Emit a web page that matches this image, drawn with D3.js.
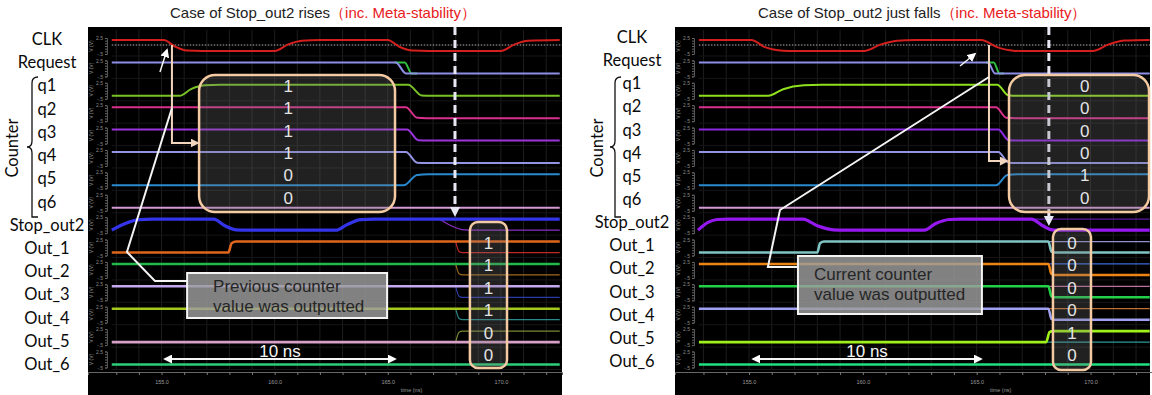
<!DOCTYPE html>
<html>
<head>
<meta charset="utf-8">
<script src="https://cdn.jsdelivr.net/npm/d3@7"></script>
<style>
  body { margin: 0; background: #fff; }
  svg { display: block; font-family: "Liberation Sans", Arial, sans-serif; }
</style>
</head>
<body>
<svg id="chart" width="1152" height="395"></svg>
<script>
// signal rows, top to bottom
const signals = ["CLK", "Request", "q1", "q2", "q3", "q4", "q5", "q6",
  "Stop_out2", "Out_1", "Out_2", "Out_3", "Out_4", "Out_5", "Out_6"];
const counterRows = ["q1", "q2", "q3", "q4", "q5", "q6"];
const outRows = ["Out_1", "Out_2", "Out_3", "Out_4", "Out_5", "Out_6"];
const timeDomain = [151.75, 172.7];
const timeTicks = [155, 160, 165, 170];

// waveforms: [time ns, level 0 = low / 1 = high]
const leftWaves = [
  [[152.8,1],[155.1,1],[155.6,0.4],[156.1,0.04],[156.8,0],[160.0,0],[160.6,0.6],[161.2,0.93],[162.0,1],[165.0,1],[165.5,0.4],[166.1,0.04],[166.8,0],[170.0,0],[170.6,0.6],[171.2,0.93],[172.6,1]],
  [[152.8,1],[165.35,1],[165.8,0],[172.6,0]],
  [[152.8,0],[155.8,0],[156.3,0.6],[156.9,0.95],[157.6,1],[165.9,1],[166.5,0.03],[166.9,0],[172.6,0]],
  [[152.8,1],[165.8,1],[166.3,0.03],[166.7,0],[172.6,0]],
  [[152.8,1],[165.85,1],[166.35,0.03],[166.8,0],[172.6,0]],
  [[152.8,1],[165.8,1],[166.3,0.03],[166.7,0],[172.6,0]],
  [[152.8,0],[165.7,0],[166.3,0.95],[166.8,1],[172.6,1]],
  [[152.8,0],[172.6,0]],
  [[152.8,0],[153.4,0.6],[154.0,0.95],[154.6,1],[157.3,1],[157.8,0.4],[158.3,0.03],[158.8,0],[162.7,0],[163.2,0.5],[163.8,0.95],[164.4,1],[172.6,1]],
  [[152.8,0],[157.95,0],[158.1,0.85],[158.3,1],[172.6,1]],
  [[152.8,1],[172.6,1]],
  [[152.8,1],[172.6,1]],
  [[152.8,1],[172.6,1]],
  [[152.8,0],[172.6,0]],
  [[152.8,0],[172.6,0]]
];
const rightWaves = [
  [[152.8,1],[155.1,1],[155.7,0.35],[156.5,0.03],[157.0,0],[160.05,0],[160.8,0.6],[161.5,0.93],[162.3,1],[165.2,1],[165.9,0.35],[166.6,0.03],[167.1,0],[170.1,0],[170.8,0.6],[171.5,0.95],[172.6,1]],
  [[152.8,1],[165.5,1],[165.8,0],[172.6,0]],
  [[152.8,0],[155.85,0],[156.5,0.6],[157.4,0.95],[158.2,1],[165.9,1],[166.4,0.03],[166.8,0],[172.6,0]],
  [[152.8,1],[165.85,1],[166.3,0.03],[166.7,0],[172.6,0]],
  [[152.8,1],[165.95,1],[166.4,0.03],[166.8,0],[172.6,0]],
  [[152.8,1],[165.95,1],[166.4,0.03],[166.8,0],[172.6,0]],
  [[152.8,0],[165.85,0],[166.35,0.95],[166.8,1],[172.6,1]],
  [[152.8,0],[172.6,0]],
  [[152.76,0],[153.2,0.7],[153.6,0.97],[154.1,1],[157.37,1],[158.0,0.4],[158.7,0.03],[159.2,0],[162.7,0],[163.2,0.6],[163.8,0.97],[164.3,1],[167.4,1],[167.9,0.4],[168.3,0.03],[168.7,0],[172.6,0]],
  [[152.8,0],[158.0,0],[158.12,0.85],[158.3,1],[168.15,1],[168.28,0.1],[168.4,0],[172.6,0]],
  [[152.8,1],[168.15,1],[168.28,0.1],[168.4,0],[172.6,0]],
  [[152.8,1],[168.15,1],[168.28,0.1],[168.4,0],[172.6,0]],
  [[152.8,1],[168.15,1],[168.28,0.1],[168.4,0],[172.6,0]],
  [[152.8,0],[168.05,0],[168.2,0.9],[168.35,1],[172.6,1]],
  [[152.8,0],[172.6,0]]
];

// thin traces of the other (meta-stable) outcome
const leftGhostRows = ["Request", "Stop_out2", "Out_1", "Out_2", "Out_3", "Out_4", "Out_5"];
const leftGhostWaves = [
  [[165.3,1],[165.75,1],[166.05,0],[166.3,0]],
  [[167.3,1],[167.8,0.4],[168.4,0.02],[168.8,0],[172.6,0]],
  [[168.0,1],[168.15,0.1],[168.3,0],[172.6,0]],
  [[168.0,1],[168.15,0.1],[168.3,0],[172.6,0]],
  [[168.0,1],[168.15,0.1],[168.3,0],[172.6,0]],
  [[168.0,1],[168.15,0.1],[168.3,0],[172.6,0]],
  [[168.0,0],[168.15,0.9],[168.3,1],[172.6,1]]
];
const rightGhostRows = ["Request", "Stop_out2", "Out_1", "Out_2", "Out_3", "Out_4", "Out_5"];
const rightGhostWaves = [
  [[165.4,1],[165.75,1],[166.0,0],[166.2,0]],
  [[167.4,1],[172.6,1]],
  [[168.15,1],[172.6,1]],
  [[168.15,1],[172.6,1]],
  [[168.15,1],[172.6,1]],
  [[168.15,1],[172.6,1]],
  [[168.05,0],[172.6,0]]
];

const leftBoxValues = ["1", "1", "1", "1", "0", "0"];
const leftOutValues = ["1", "1", "1", "1", "0", "0"];
const rightBoxValues = ["0", "0", "0", "0", "1", "0"];
const rightOutValues = ["0", "0", "0", "0", "1", "0"];

const leftColors = ["#d3201e", "#8e8ee6", "#78c226", "#d8308c", "#9c34dc", "#9494e4", "#2a8ad0", "#d49ad6",
  "#3434e8", "#e0661e", "#22b84a", "#c4a8f0", "#a4c81c", "#d8a0c8", "#2ecf78"];
const rightColors = ["#d3201e", "#8e8ee6", "#8ee01e", "#d8308c", "#8c28e0", "#9494e4", "#2a8ad0", "#d49ad6",
  "#9618f0", "#80c4c4", "#ee8414", "#22d04a", "#a0a0f0", "#a0f01a", "#22e080"];
const leftGhostColors = ["#30c040", "#8a30c8", "#c02828", "#a06a20", "#2a3aa8", "#2a8a8a", "#7a8a30"];
const rightGhostColors = ["#30c040", "#5a1aa0", "#9090d0", "#3a6ad8", "#c070a0", "#c07030", "#2a9a9a"];

const svg = d3.select("#chart");

const defs = svg.append("defs");
function marker(id, color, size) {
  defs.append("marker").attr("id", id)
    .attr("viewBox", "0 0 10 10").attr("refX", 8).attr("refY", 5)
    .attr("markerWidth", size).attr("markerHeight", size)
    .attr("markerUnits", "userSpaceOnUse")
    .attr("orient", "auto-start-reverse")
    .append("path").attr("d", "M0,0L10,5L0,10Z").attr("fill", color);
}
marker("arrW", "#ffffff", 9);
marker("arrP", "#f2d5bd", 9);

function drawPanel(p) {
  const x = d3.scaleLinear().domain(timeDomain).range(p.xRange);
  const row = d3.scalePoint().domain(signals).range([40, 353.5]);
  const lvl = d3.scaleLinear().domain([0, 1]).range([11, 0]);
  const labelY = d3.scalePoint().domain(signals).range(p.labelRange);
  const x0 = p.xRange[0], x1 = p.panelRight;

  // title
  const title = svg.append("text").attr("x", p.titleX).attr("y", 18)
    .attr("font-size", 15).attr("fill", "#222");
  title.append("tspan").text(p.title);
  title.append("tspan").attr("fill", "#e8201c").text("（inc. Meta-stability）");

  // row labels
  svg.append("g").selectAll("text").data(signals).join("text")
    .attr("x", p.labelX).attr("y", d => labelY(d))
    .attr("text-anchor", "middle")
    .attr("font-family", "Lato, 'Open Sans', sans-serif")
    .attr("font-size", 16.5).attr("fill", "#0a0a0a")
    .text(d => d);

  // Counter brace
  const bx = p.braceX;
  svg.append("path")
    .attr("d", `M${bx + 6},77 Q${bx},77 ${bx},83 L${bx},141 Q${bx},147 ${bx - 5},147 Q${bx},147 ${bx},153 L${bx},217 L${bx + 6},217`)
    .attr("fill", "none").attr("stroke", "#111").attr("stroke-width", 1.3);
  svg.append("text")
    .attr("transform", `translate(${bx - p.counterDx},148) rotate(-90)`)
    .attr("text-anchor", "middle").attr("dominant-baseline", "central")
    .attr("font-family", "Lato, 'Open Sans', sans-serif")
    .attr("font-size", 16.5).attr("fill", "#0a0a0a").text("Counter");

  // black plot area
  svg.append("rect").attr("x", x0).attr("y", 27).attr("width", x1 - x0).attr("height", 368).attr("fill", "#000");

  const g = svg.append("g");

  // faint grid
  g.append("g").selectAll("line").data(d3.range(153, 173))
    .join("line")
    .attr("x1", d => x(d)).attr("x2", d => x(d)).attr("y1", 30).attr("y2", 369)
    .attr("stroke", "#1d1d1d").attr("stroke-width", 1);
  g.append("g").selectAll("line").data(signals)
    .join("line")
    .attr("x1", x(152.8)).attr("x2", x1).attr("y1", d => row(d) + 16).attr("y2", d => row(d) + 16)
    .attr("stroke", "#161616").attr("stroke-width", 1);

  // small per-row voltage axes
  signals.forEach(s => {
    const vy = d3.scaleLinear().domain([-0.5, 2.5]).range([row(s) + 14, row(s) - 2]);
    const ax = g.append("g").attr("transform", `translate(${x0 + 19},0)`)
      .call(d3.axisLeft(vy).tickValues([-0.5, 0, 0.5, 1, 1.5, 2, 2.5]).tickSize(2)
        .tickFormat(d => d === 2.5 ? "2.5" : d === -0.5 ? "-.5" : ""));
    ax.select(".domain").attr("stroke", "#555");
    ax.selectAll("line").attr("stroke", "#666");
    ax.selectAll("text").attr("font-size", 5).attr("fill", "#8a8a8a").attr("dx", 1);
    g.append("text").attr("transform", `translate(${x0 + 5},${row(s) + 6}) rotate(-90)`)
      .attr("text-anchor", "middle").attr("font-size", 5).attr("fill", "#8a8a8a").text("V (V)");
  });

  // time axis
  const tax = g.append("g").attr("transform", "translate(0,372)")
    .call(d3.axisBottom(x).tickValues(d3.range(153, 173)).tickSize(3)
      .tickFormat(d => timeTicks.includes(d) ? d.toFixed(1) : ""));
  tax.select(".domain").attr("stroke", "#666");
  tax.selectAll("line").attr("stroke", "#777");
  tax.selectAll("text").attr("font-size", 5.5).attr("fill", "#9a9a9a").attr("dy", 6);
  g.append("text").attr("x", x(166.05)).attr("y", 392).attr("text-anchor", "middle")
    .attr("font-size", 5.5).attr("fill", "#9a9a9a").text("time (ns)");

  // CLK threshold dotted line
  g.append("line").attr("x1", x(152.8)).attr("x2", x1)
    .attr("y1", row("CLK") + 5).attr("y2", row("CLK") + 5)
    .attr("stroke", "#b0b0b0").attr("stroke-width", 1).attr("stroke-dasharray", "1.5,1.5");

  const line = s => d3.line().x(d => x(d[0])).y(d => row(s) + lvl(d[1])).curve(d3.curveMonotoneX);
  const widthOf = s => s === "Stop_out2" ? 3.2 : s.startsWith("Out") ? 2.6 : 2;

  // ghost traces
  p.ghostRows.forEach((s, i) => {
    g.append("path").datum(p.ghostWaves[i]).attr("d", line(s))
      .attr("fill", "none").attr("stroke", p.ghostColors[i]).attr("stroke-width", s === "Request" ? 2 : 1.2);
  });
  // main traces
  signals.forEach((s, i) => {
    g.append("path").datum(p.waves[i]).attr("d", line(s))
      .attr("fill", "none").attr("stroke", p.colors[i]).attr("stroke-width", widthOf(s));
  });

  // dashed sampling line
  const dx = x(p.sampleT);
  g.append("line").attr("x1", dx).attr("x2", dx).attr("y1", 27).attr("y2", p.sampleEnd - 9)
    .attr("stroke", "#e8e8f4").attr("stroke-width", 3).attr("stroke-dasharray", "8,5");
  g.append("path").attr("d", `M${dx - 5},${p.sampleEnd - 10}L${dx + 5},${p.sampleEnd - 10}L${dx},${p.sampleEnd}Z`)
    .attr("fill", "#e8e8f4");

  // counter box
  const bb = p.bigBox;
  g.append("rect").attr("x", x(bb[0])).attr("y", 75).attr("width", x(bb[1]) - x(bb[0])).attr("height", 137)
    .attr("rx", 16).attr("fill", "rgba(120,120,120,0.28)").attr("stroke", "#f3caa2").attr("stroke-width", 2.5);
  g.append("g").selectAll("text").data(counterRows).join("text")
    .attr("x", x(p.bigNumT)).attr("y", d => row(d) + 1.5)
    .attr("text-anchor", "middle").attr("dominant-baseline", "central")
    .attr("font-size", 17).attr("fill", "#e4e4e4")
    .text((d, i) => p.boxValues[i]);

  // output box
  const ob = p.outBox;
  g.append("rect").attr("x", x(ob[0])).attr("y", p.outBoxY[0]).attr("width", x(ob[1]) - x(ob[0]))
    .attr("height", p.outBoxY[1] - p.outBoxY[0])
    .attr("rx", 8).attr("fill", "rgba(120,120,120,0.28)").attr("stroke", "#f3caa2").attr("stroke-width", 2.5);
  g.append("g").selectAll("text").data(outRows).join("text")
    .attr("x", x((ob[0] + ob[1]) / 2)).attr("y", d => row(d) + 2)
    .attr("text-anchor", "middle").attr("dominant-baseline", "central")
    .attr("font-size", 17).attr("fill", "#e4e4e4")
    .text((d, i) => p.outValues[i]);

  // callout lines
  g.append("path")
    .attr("d", `M${x(p.callT)},${row("CLK") + 5}L${x(p.callT)},${p.callY}L${x(p.callEndT)},${p.callY}`)
    .attr("fill", "none").attr("stroke", "#f2d5bd").attr("stroke-width", 2).attr("marker-end", "url(#arrP)");
  g.append("path")
    .attr("d", d3.line()(p.diag.map(d => [x(d[0]), d[1]])))
    .attr("fill", "none").attr("stroke", "#f4f4f4").attr("stroke-width", 2);
  g.append("path")
    .attr("d", d3.line()(p.smallArrow.map(d => [x(d[0]), d[1]])))
    .attr("fill", "none").attr("stroke", "#f4f4f4").attr("stroke-width", 1.5).attr("marker-end", "url(#arrW)");

  // explanation box
  const gb = p.greyBox;
  g.append("rect").attr("x", x(gb[0])).attr("y", gb[2]).attr("width", x(gb[1]) - x(gb[0])).attr("height", gb[3] - gb[2])
    .attr("fill", "rgba(158,158,158,0.82)").attr("stroke", "#f4f4f4").attr("stroke-width", 2);
  p.note.forEach((t, i) => {
    g.append("text").attr("x", x(gb[0]) + p.noteDx).attr("y", p.noteY[i])
      .attr("font-size", 17).attr("fill", "#262626").text(t);
  });

  // 10 ns span
  g.append("line").attr("x1", x(p.spanT[0])).attr("x2", x(p.spanT[1])).attr("y1", 359).attr("y2", 359)
    .attr("stroke", "#f4f4f4").attr("stroke-width", 2)
    .attr("marker-start", "url(#arrW)").attr("marker-end", "url(#arrW)");
  g.append("text").attr("x", x((p.spanT[0] + p.spanT[1]) / 2)).attr("y", 357)
    .attr("text-anchor", "middle").attr("font-size", 17).attr("fill", "#f4f4f4").text("10 ns");
}

drawPanel({
  xRange: [88, 562], panelRight: 562,
  title: "Case of Stop_out2 rises", titleX: 170,
  labelX: 47, labelRange: [45, 370], braceX: 32, counterDx: 20,
  waves: leftWaves, colors: leftColors,
  ghostRows: leftGhostRows, ghostWaves: leftGhostWaves, ghostColors: leftGhostColors,
  sampleT: 167.97, sampleEnd: 217,
  bigBox: [156.66, 165.32], bigNumT: 160.6, boxValues: leftBoxValues,
  outBox: [168.63, 170.27], outBoxY: [222, 368], outValues: leftOutValues,
  callT: 155.46, callY: 143, callEndT: 156.6,
  diag: [[155.46, 108], [153.47, 252], [154.71, 281], [156.13, 281]],
  smallArrow: [[154.93, 72], [155.24, 50]],
  greyBox: [156.13, 164.97, 273, 318], note: ["Previous counter", "value was outputted"],
  noteDx: 26, noteY: [292, 312],
  spanT: [155.15, 165.32]
});

drawPanel({
  xRange: [675, 1152], panelRight: 1150,
  title: "Case of Stop_out2 just falls", titleX: 758,
  labelX: 632, labelRange: [43, 367], braceX: 615, counterDx: 18,
  waves: rightWaves, colors: rightColors,
  ghostRows: rightGhostRows, ghostWaves: rightGhostWaves, ghostColors: rightGhostColors,
  sampleT: 168.17, sampleEnd: 226,
  bigBox: [166.42, 172.57], bigNumT: 169.75, boxValues: rightBoxValues,
  outBox: [168.35, 170.02], outBoxY: [229, 370], outValues: rightOutValues,
  callT: 165.54, callY: 161, callEndT: 166.33,
  diag: [[165.54, 77], [156.36, 210], [155.83, 267], [157.15, 267]],
  smallArrow: [[164.27, 66], [164.92, 54]],
  greyBox: [157.15, 165.23, 256, 314], note: ["Current counter", "value was outputted"],
  noteDx: 16, noteY: [280, 300],
  spanT: [155.18, 165.19]
});
</script>
</body>
</html>
